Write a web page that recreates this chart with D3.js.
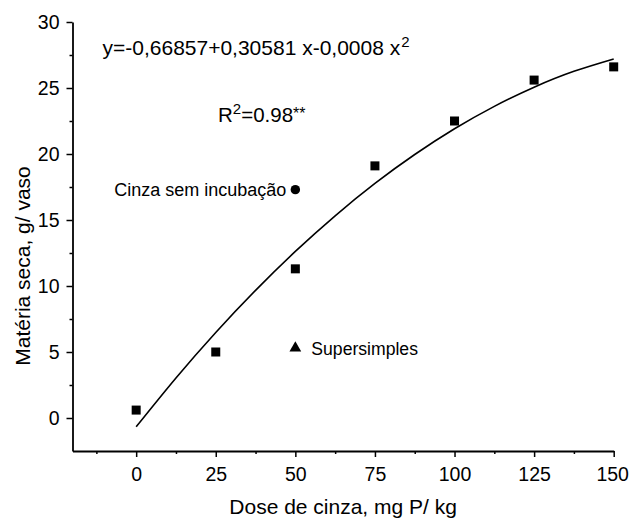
<!DOCTYPE html>
<html>
<head>
<meta charset="utf-8">
<script src="https://cdn.jsdelivr.net/npm/d3@7"></script>
<style>
  html, body { margin: 0; padding: 0; background: #fff; }
  svg { display: block; font-family: "Liberation Sans", Arial, sans-serif; }
</style>
</head>
<body>
<svg id="chart" width="629" height="519"></svg>
<script>
// ---- data ----
const doses = [0, 25, 50, 75, 100, 125, 150];
const dryMatter = [0.6, 5.0, 11.3, 19.1, 22.5, 25.6, 26.6];     // Matéria seca, g/ vaso (squares)
const curveDose = [0, 12.5, 25, 37.5, 50, 62.5, 75, 87.5, 100, 112.5, 125, 137.5, 150];
const curveValues = [-0.67, 3.03, 6.48, 9.67, 12.62, 15.32, 17.77, 19.96, 21.91, 23.61, 25.06, 26.26, 27.2];
const cinzaPoint = { dose: 50, value: 17.3, label: "Cinza sem incubação" };
const superPoint = { dose: 50, value: 5.3, label: "Supersimples" };
const xTicks = [0, 25, 50, 75, 100, 125, 150];
const xMinorTicks = [-12.5, 12.5, 37.5, 62.5, 87.5, 112.5, 137.5];
const yTicks = [0, 5, 10, 15, 20, 25, 30];
const yMinorTicks = [2.5, 7.5, 12.5, 17.5, 22.5, 27.5];
const xTitle = "Dose de cinza, mg P/ kg";
const yTitle = "Matéria seca, g/ vaso";

// ---- layout ----
const svg = d3.select("#chart");
const pLeft = 72.5, pRight = 613.7, pTop = 22, pBottom = 451;
const x = d3.scaleLinear().domain([-20, 150]).range([pLeft, pRight]);
const y = d3.scaleLinear().domain([-2.5, 30]).range([pBottom, pTop]);

// axes: minor ticks
svg.append("g").attr("transform", `translate(0,${pBottom})`)
  .call(d3.axisBottom(x).tickValues(xMinorTicks).tickSize(3).tickFormat(""))
  .call(g => g.select(".domain").remove())
  .selectAll("line").attr("stroke", "#000").attr("stroke-width", 1.5);
svg.append("g").attr("transform", `translate(${pLeft},0)`)
  .call(d3.axisLeft(y).tickValues(yMinorTicks).tickSize(3).tickFormat(""))
  .call(g => g.select(".domain").remove())
  .selectAll("line").attr("stroke", "#000").attr("stroke-width", 1.5);

// axes: major
const xAxis = svg.append("g").attr("transform", `translate(0,${pBottom})`)
  .call(d3.axisBottom(x).tickValues(xTicks).tickSize(6).tickPadding(10).tickSizeOuter(0).tickFormat(d3.format("d")));
const yAxis = svg.append("g").attr("transform", `translate(${pLeft},0)`)
  .call(d3.axisLeft(y).tickValues(yTicks).tickSize(6).tickPadding(7).tickSizeOuter(0).tickFormat(d3.format("d")));
[xAxis, yAxis].forEach(g => {
  g.select(".domain").attr("stroke", "#000").attr("stroke-width", 1.8);
  g.selectAll(".tick line").attr("stroke", "#000").attr("stroke-width", 1.5);
  g.selectAll(".tick text").attr("fill", "#000")
    .style("font-size", "19.5px").style("font-family", "'Liberation Sans', Arial, sans-serif");
});
// keep the last x label inside the page edge
xAxis.selectAll(".tick text").filter(d => d === 150).attr("x", -1.5);

// fitted curve
const line = d3.line().x((d, i) => x(curveDose[i])).y(d => y(d)).curve(d3.curveNatural);
svg.append("path").datum(curveValues)
  .attr("d", line).attr("fill", "none").attr("stroke", "#000").attr("stroke-width", 1.6);

// square points
const sq = 9;
svg.append("g").selectAll("rect").data(dryMatter).join("rect")
  .attr("x", (d, i) => x(doses[i]) - sq / 2)
  .attr("y", d => y(d) - sq / 2)
  .attr("width", sq).attr("height", sq).attr("fill", "#000");

// circle point
svg.append("circle").attr("cx", x(cinzaPoint.dose)).attr("cy", y(cinzaPoint.value))
  .attr("r", 4.7).attr("fill", "#000");
svg.append("text").attr("x", x(cinzaPoint.dose) - 9).attr("y", y(cinzaPoint.value) + 6.5)
  .attr("text-anchor", "end").style("font-size", "18px").text(cinzaPoint.label);

// triangle point
svg.append("path").attr("d", d3.symbol(d3.symbolTriangle, 60)())
  .attr("transform", `translate(${x(superPoint.dose)},${y(superPoint.value)})`).attr("fill", "#000");
svg.append("text").attr("x", x(superPoint.dose) + 16).attr("y", y(superPoint.value) + 7)
  .style("font-size", "17.6px").text(superPoint.label);

// equation
const eq = svg.append("text").attr("x", 102.5).attr("y", 55).style("font-size", "21px");
eq.append("tspan").text("y=-0,66857+0,30581 x-0,0008 x");
eq.append("tspan").attr("dy", -8.5).attr("dx", 1).style("font-size", "15px").text("2");

const r2 = svg.append("text").attr("x", 218).attr("y", 122).style("font-size", "20.5px");
r2.append("tspan").text("R");
r2.append("tspan").attr("dy", -8.5).style("font-size", "15px").text("2");
r2.append("tspan").attr("dy", 8.5).text("=0.98");
r2.append("tspan").attr("dy", -3).style("font-size", "16px").text("**");

// axis titles
svg.append("text").attr("x", (pLeft + pRight) / 2).attr("y", 514)
  .attr("text-anchor", "middle").style("font-size", "21px").text(xTitle);
svg.append("text").attr("transform", "translate(30,266) rotate(-90)")
  .attr("text-anchor", "middle").style("font-size", "21px").text(yTitle);
</script>
</body>
</html>
